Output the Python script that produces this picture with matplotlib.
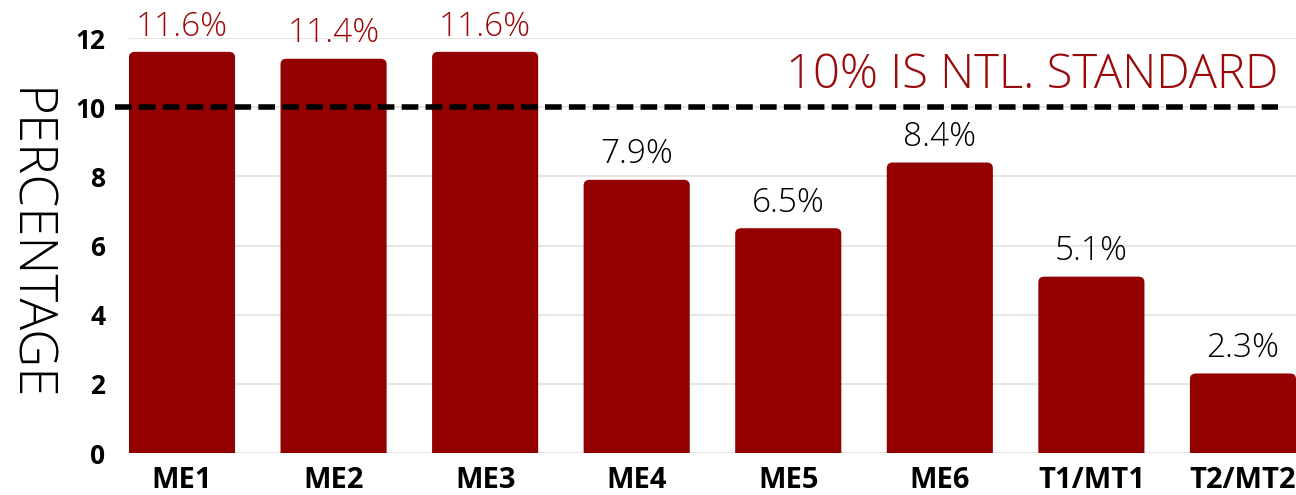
import matplotlib
matplotlib.use("Agg")
import matplotlib.pyplot as plt
from matplotlib.patches import FancyBboxPatch

categories = ["ME1", "ME2", "ME3", "ME4", "ME5", "ME6", "T1/MT1", "T2/MT2"]
values = [11.6, 11.4, 11.6, 7.9, 6.5, 8.4, 5.1, 2.3]
labels = ["11.6%", "11.4%", "11.6%", "7.9%", "6.5%", "8.4%", "5.1%", "2.3%"]
standard = 10
standard_text = "10% IS NTL. STANDARD"
yticks = [0, 2, 4, 6, 8, 10, 12]

bar_color = "#930000"
red_text = "#9a0a0a"

plt.rcParams["font.family"] = ["Open Sans", "DejaVu Sans"]

fig = plt.figure(figsize=(12.96, 4.95), dpi=100)
ax = fig.add_axes([0.0995, 0.0848, 0.9005, 0.8384])

x = list(range(len(categories)))
bars = ax.bar(x, values, width=0.7, color=bar_color, zorder=2)

ax.set_xlim(-0.35, len(categories) - 0.65)
ax.set_ylim(0, 12)

# swap plain bars for bars with rounded tops
r = 0.04
for b in bars:
  b.set_visible(False)
  box = FancyBboxPatch((b.get_x(), -0.3), b.get_width(), b.get_height() + 0.3,
                       boxstyle="round,pad=0,rounding_size=%g" % r,
                       mutation_aspect=4.0, facecolor=bar_color,
                       edgecolor="none", zorder=2)
  ax.add_patch(box)

ax.set_yticks(yticks)
ax.set_xticks(x)
ax.set_xticklabels(categories)
ax.grid(axis="y", color="#e6e6e6", linewidth=1.5, zorder=0)
for s in ax.spines.values():
  s.set_visible(False)
ax.tick_params(axis="both", length=0)
ax.tick_params(axis="y", pad=17, labelsize=19)
ax.tick_params(axis="x", pad=9, labelsize=21)
for t in ax.get_xticklabels() + ax.get_yticklabels():
  t.set_fontweight("bold")

# value labels
for i, (v, lab) in enumerate(zip(values, labels)):
  col = red_text if v > standard else "black"
  ax.annotate(lab, (i, v), xytext=(0, 6), textcoords="offset points",
              ha="center", va="bottom", fontsize=24, color=col,
              fontweight="light", annotation_clip=False)

# national standard line
ax.axhline(standard, xmin=-0.012, xmax=0.985, color="black", linestyle=(0, (3, 1.3)),
           linewidth=4, clip_on=False, zorder=3)
ax.text(0.985, 10.55, standard_text, transform=ax.get_yaxis_transform(),
        ha="right", va="baseline", fontsize=34, color=red_text, fontweight="light")

fig.text(0.021, 0.505, "PERCENTAGE", rotation=270, ha="center", va="center",
         fontsize=38, fontweight="light")

fig.savefig("out.png", dpi=100)
